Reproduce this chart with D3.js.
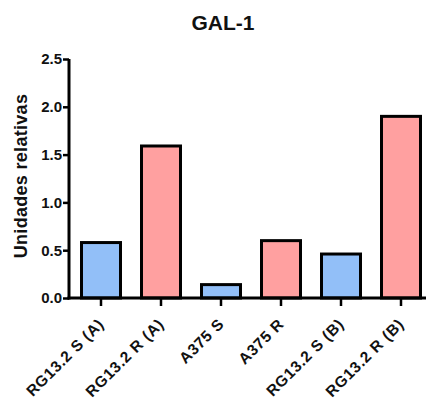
<!DOCTYPE html>
<html>
<head>
<meta charset="utf-8">
<script src="https://cdn.jsdelivr.net/npm/d3@7"></script>
<style>
  body { margin: 0; background: #fff; }
  text { font-family: "Liberation Sans", Arial, sans-serif; font-weight: bold; }
</style>
</head>
<body>
<svg id="svg"></svg>
<script>
const categories = ['RG13.2 S (A)', 'RG13.2 R (A)', 'A375 S', 'A375 R', 'RG13.2 S (B)', 'RG13.2 R (B)']
const values = [0.58, 1.59, 0.14, 0.60, 0.46, 1.90]
const groups = ['S', 'R', 'S', 'R', 'S', 'R']
const yTicks = [0, 0.5, 1.0, 1.5, 2.0, 2.5]

const colors = { S: '#92bff8', R: '#ffa0a0' }

const svg = d3.select('#svg')
  .attr('width', 427)
  .attr('height', 402)

const yScale = d3.scaleLinear()
  .domain([0, 2.5])
  .range([298, 59])

const xScale = d3.scaleBand()
  .domain(categories)
  .range([71, 431])
  .paddingInner(0.35)
  .paddingOuter(0.175)

// bars
svg.append('g')
  .selectAll('rect')
  .data(values)
  .enter()
  .append('rect')
  .attr('x', (d, i) => xScale(categories[i]))
  .attr('y', d => yScale(d))
  .attr('width', xScale.bandwidth())
  .attr('height', d => yScale(0) - yScale(d))
  .attr('fill', (d, i) => colors[groups[i]])
  .attr('stroke', '#000')
  .attr('stroke-width', 3)

// y axis
const yAxis = svg.append('g')
  .attr('transform', 'translate(69,0)')
  .call(d3.axisLeft(yScale).tickValues(yTicks).tickFormat(d3.format('.1f')).tickSize(6).tickSizeOuter(0))
yAxis.select('.domain').attr('stroke-width', 3).attr('d', 'M0,' + yScale(2.5) + 'V' + (yScale(0) + 1.5))
yAxis.selectAll('.tick line').attr('stroke-width', 2.5)
yAxis.selectAll('.tick text').attr('font-size', 15).attr('x', -7).attr('fill', '#111')

// x axis
const xAxis = svg.append('g')
  .attr('transform', 'translate(0,298)')
  .call(d3.axisBottom(xScale).tickSize(8).tickSizeOuter(0))
xAxis.select('.domain').attr('stroke-width', 3).attr('d', 'M67.5,0H426')
xAxis.selectAll('.tick line').attr('stroke-width', 2.5)
xAxis.selectAll('.tick text')
  .attr('font-size', 15.5)
  .attr('letter-spacing', 0.7)
  .attr('fill', '#111')
  .attr('text-anchor', 'end')
  .attr('dy', 0)
  .attr('y', 0)
  .attr('transform', 'translate(4,27) rotate(-45)')

// y label
svg.append('text')
  .attr('transform', 'translate(27,176) rotate(-90)')
  .attr('text-anchor', 'middle')
  .attr('font-size', 18)
  .attr('letter-spacing', 0.3)
  .attr('fill', '#111')
  .text('Unidades relativas')

// title
svg.append('text')
  .attr('x', 223)
  .attr('y', 30)
  .attr('text-anchor', 'middle')
  .attr('font-size', 21)
  .attr('fill', '#111')
  .text('GAL-1')
</script>
</body>
</html>
